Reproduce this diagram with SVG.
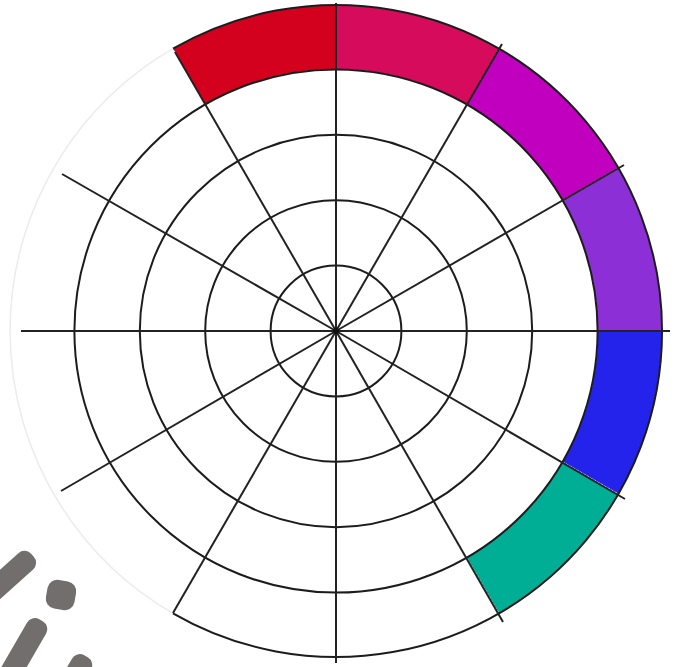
<svg xmlns="http://www.w3.org/2000/svg" width="680" height="667" viewBox="0 0 680 667">
<style>
.ring{fill:none;stroke:#1c1c1c;stroke-width:2}
.spoke{stroke:#222;stroke-width:2;stroke-linecap:butt}
.seg{stroke:#fff;stroke-width:1;stroke-dasharray:2 2}
.mark{fill:#736e6e}
</style>
<rect width="680" height="667" fill="#fff"/>
<g id="segments">
<path id="seg-red" class="seg" fill="#d3001e" d="M173,48.7 A326,326 0 0 1 336,5 L336,69.4 A261.6,261.6 0 0 0 205.2,104.4 Z"/>
<path id="seg-crimson" class="seg" fill="#d70b5c" d="M336,5 A326,326 0 0 1 499,48.7 L466.8,104.4 A261.6,261.6 0 0 0 336,69.4 Z"/>
<path id="seg-magenta" class="seg" fill="#c100bf" d="M499,48.7 A326,326 0 0 1 618.3,168 L562.6,200.2 A261.6,261.6 0 0 0 466.8,104.4 Z"/>
<path id="seg-purple" class="seg" fill="#8d2fd6" d="M618.3,168 A326,326 0 0 1 662,331 L597.6,331 A261.6,261.6 0 0 0 562.6,200.2 Z"/>
<path id="seg-blue" class="seg" fill="#2323ec" d="M662,331 A326,326 0 0 1 618.3,494 L562.6,461.8 A261.6,261.6 0 0 0 597.6,331 Z"/>
<path id="seg-teal" class="seg" fill="#00ad95" d="M618.3,494 A326,326 0 0 1 499,613.3 L466.8,557.6 A261.6,261.6 0 0 0 562.6,461.8 Z"/>
</g>
<g id="rings">
<circle class="ring" cx="336" cy="331" r="65.4"/>
<circle class="ring" cx="336" cy="331" r="130.8"/>
<circle class="ring" cx="336" cy="331" r="196.2"/>
<circle class="ring" cx="336" cy="331" r="261.6"/>
<path id="outer-dark" class="ring" d="M173,48.7 A326,326 0 1 1 173,613.3"/>
<path id="outer-faint" fill="none" stroke="#ececec" stroke-width="1.5" d="M173,613.3 A326,326 0 0 1 173,48.7"/>
</g>
<g id="connectors">
<line class="spoke" x1="336" y1="331" x2="670" y2="331"/>
<line class="spoke" x1="336" y1="331" x2="624" y2="165"/>
<line class="spoke" x1="336" y1="331" x2="502" y2="44"/>
<line class="spoke" x1="336" y1="331" x2="336" y2="3"/>
<line class="spoke" x1="336" y1="331" x2="175" y2="52"/>
<line class="spoke" x1="336" y1="331" x2="62" y2="174"/>
<line class="spoke" x1="336" y1="331" x2="21" y2="331"/>
<line class="spoke" x1="336" y1="331" x2="61" y2="491"/>
<line class="spoke" x1="336" y1="331" x2="173" y2="613"/>
<line class="spoke" x1="336" y1="331" x2="336" y2="663"/>
<line class="spoke" x1="336" y1="331" x2="503" y2="622"/>
<line class="spoke" x1="336" y1="331" x2="625" y2="499"/>
<circle cx="336" cy="331" r="3" fill="#111"/>
</g>
<g id="logo">
<rect class="mark" x="-10" y="-11" width="90" height="22" rx="9" transform="translate(25,562) rotate(138)"/>
<rect class="mark" x="-14.5" y="-14.5" width="29" height="29" rx="10" transform="translate(61,595) rotate(10)"/>
<rect class="mark" x="-10" y="-11" width="90" height="22" rx="9" transform="translate(36,629) rotate(120)"/>
<rect class="mark" x="-10" y="-11" width="90" height="22" rx="9" transform="translate(81,665) rotate(120)"/>
</g>
</svg>
